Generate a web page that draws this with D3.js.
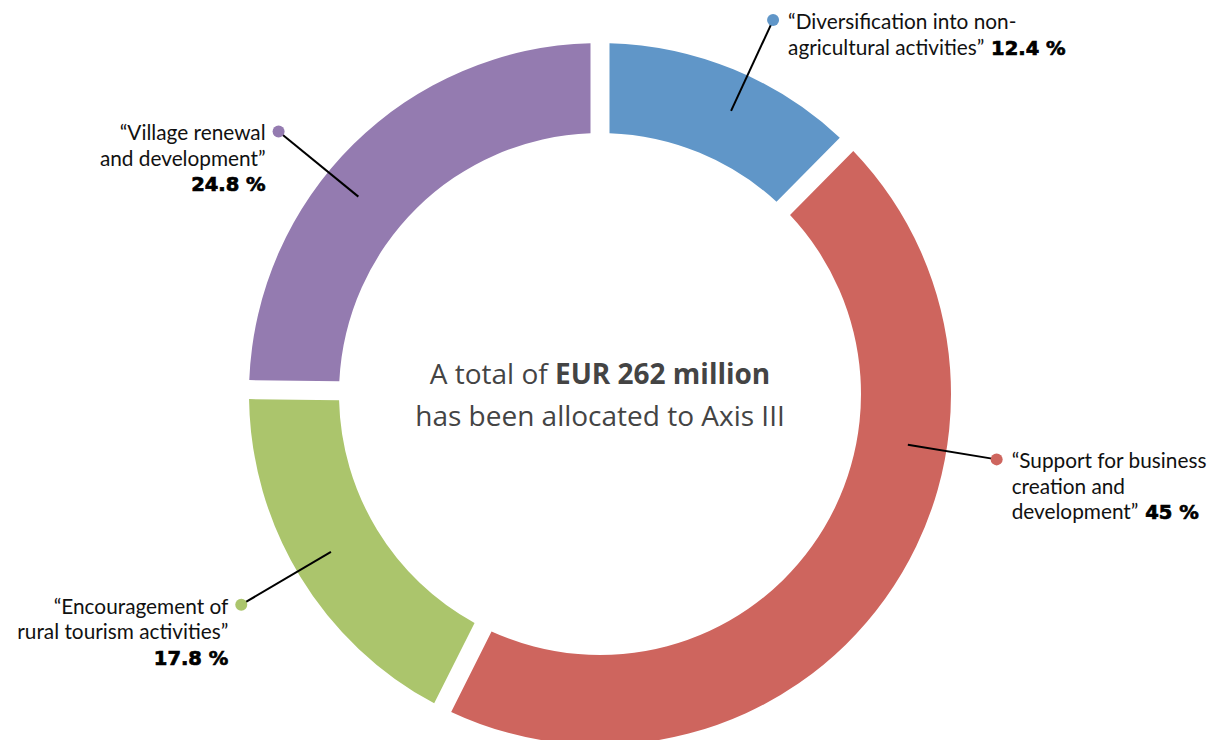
<!DOCTYPE html>
<html lang="en">
<head>
  <meta charset="UTF-8" />
  <title>Axis III allocation</title>
  <script src="https://d3js.org/d3.v7.min.js"></script>
  <style>
    * { margin: 0; padding: 0; box-sizing: border-box; }
    body { background: #fff; overflow: hidden; }
    svg { display: block; }
    .label { font-family: Lato, "Open Sans", sans-serif; font-size: 20.8px; fill: #111; }
    .label .pct { font-family: "DejaVu Sans", sans-serif; font-weight: 700; font-size: 19.5px; fill: #000; stroke: #000; stroke-width: 0.7px; }
    .centre { font-family: "Open Sans", Lato, sans-serif; font-size: 28px; fill: #444; }
  </style>
</head>
<body>
  <script>
    // data
    const measures = ['Diversification into non-agricultural activities', 'Support for business creation and development', 'Encouragement of rural tourism activities', 'Village renewal and development'];
    const shares = [12.4, 45, 17.8, 24.8];
    const shareText = ['12.4 %', '45 %', '17.8 %', '24.8 %'];
    const labelLines = [
      ['\u201cDiversification into non-', 'agricultural activities\u201d'],
      ['\u201cSupport for business', 'creation and', 'development\u201d'],
      ['\u201cEncouragement of', 'rural tourism activities\u201d'],
      ['\u201cVillage renewal', 'and development\u201d']
    ];
    // where the leader line sits, as a position (0-100) round the ring
    const leaderAt = [6.9, 27.6, 66.55, 85.9];
    const colours = ['#6096c8', '#ce655e', '#abc56c', '#947bb0'];
    const totalText = ['A total of ', 'EUR 262 million'];
    const totalText2 = 'has been allocated to Axis III';

    //constants
    const [w, h] = [1222, 740];
    const [cx, cy] = [600, 394];
    const [rOuter, rInner] = [351, 261];
    const rLeadIn = 312;
    const rLeadOut = [412, 402, 416, 415];
    const lineH = 25.5;

    const svg = d3.select('body').append('svg')
      .attr('width', w)
      .attr('height', h);

    const g = svg.append('g').attr('transform', `translate(${cx},${cy})`);

    const pie = d3.pie().sort(null).value(d => d)(shares);

    const arc = d3.arc()
      .innerRadius(rInner)
      .outerRadius(rOuter)
      .padRadius(rOuter)
      .padAngle(19 / rOuter);

    g.selectAll('path.slice')
      .data(pie)
      .join('path')
      .attr('class', 'slice')
      .attr('d', arc)
      .attr('fill', (d, i) => colours[i]);

    // ring position -> angle
    const angle = d3.scaleLinear().domain([0, 100]).range([0, 2 * Math.PI]);
    const polar = (a, r) => [r * Math.sin(a), -r * Math.cos(a)];

    const labels = g.selectAll('g.lab')
      .data(measures)
      .join('g')
      .attr('class', 'lab');

    labels.each(function (d, i) {
      const a = angle(leaderAt[i]);
      const p0 = polar(a, rLeadIn);
      const p1 = polar(a, rLeadOut[i]);
      const sel = d3.select(this);
      const right = a < Math.PI;
      const tx = p1[0] + (right ? 15 : -13);

      sel.append('line')
        .attr('x1', p0[0]).attr('y1', p0[1])
        .attr('x2', p1[0]).attr('y2', p1[1])
        .attr('stroke', '#000')
        .attr('stroke-width', 2);

      sel.append('circle')
        .attr('cx', p1[0]).attr('cy', p1[1])
        .attr('r', 6)
        .attr('fill', colours[i]);

      const txt = sel.append('text')
        .attr('class', 'label')
        .attr('text-anchor', right ? 'start' : 'end')
        .attr('x', tx)
        .attr('y', p1[1] + 9);

      labelLines[i].forEach((l, j) => {
        txt.append('tspan')
          .attr('x', tx)
          .attr('dy', j === 0 ? 0 : lineH)
          .text(l);
      });
      if (right) {
        // percent sits on the last line
        txt.append('tspan').attr('class', 'pct').text('\u00a0' + shareText[i]);
      } else {
        txt.append('tspan').attr('class', 'pct')
          .attr('x', tx)
          .attr('dy', lineH)
          .text(shareText[i]);
      }
    });

    // centre text
    const c1 = g.append('text').attr('class', 'centre')
      .attr('text-anchor', 'middle')
      .attr('y', -10);
    c1.append('tspan').text(totalText[0]);
    c1.append('tspan').attr('font-weight', 700).text(totalText[1]);

    g.append('text').attr('class', 'centre')
      .attr('text-anchor', 'middle')
      .attr('y', 32)
      .text(totalText2);
  </script>
</body>
</html>
